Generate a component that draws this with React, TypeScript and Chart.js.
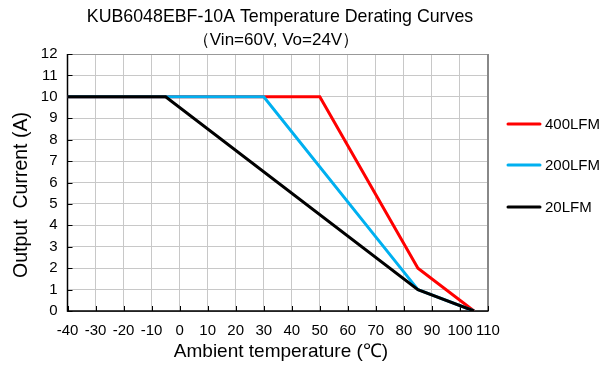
import React, { useEffect, useRef } from "react";
import { Chart, registerables } from "chart.js";

Chart.register(...registerables);

const TITLE = "KUB6048EBF-10A Temperature Derating Curves";
const SUBTITLE = "（Vin=60V, Vo=24V）";
const X_TITLE = "Ambient temperature (℃)";
const Y_TITLE = "Output  Current (A)";

const seriesNames = ["400LFM", "200LFM", "20LFM"];
const seriesColors = ["#ff0000", "#00b0f0", "#000000"];

const temp400 = [-40, 50, 85, 105];
const curr400 = [10, 10, 2, 0];
const temp200 = [-40, 30, 85, 105];
const curr200 = [10, 10, 1, 0];
const temp20 = [-40, -5, 85, 105];
const curr20 = [10, 10, 1, 0];

const xMin = -40, xMax = 110, xStep = 10;
const yMin = 0, yMax = 12, yStep = 1;

const FONT = "'Liberation Sans', Arial, sans-serif";

const pts = (xs: number[], ys: number[]) => xs.map((x, i) => ({ x, y: ys[i] }));

const decorPlugin = {
  id: "decor",
  beforeDatasetsDraw(chart: any) {
    const { ctx, chartArea, scales } = chart;
    const xs = scales.x, ys = scales.y;
    ctx.save();
    // top & right frame gray
    ctx.strokeStyle = "#999";
    ctx.lineWidth = 1;
    ctx.beginPath();
    ctx.moveTo(chartArea.left, Math.round(chartArea.top) + 0.5);
    ctx.lineTo(chartArea.right, Math.round(chartArea.top) + 0.5);
    ctx.stroke();
    ctx.strokeStyle = "#888";
    ctx.lineWidth = 2;
    ctx.beginPath();
    ctx.moveTo(chartArea.right, chartArea.top);
    ctx.lineTo(chartArea.right, chartArea.bottom);
    ctx.stroke();
    ctx.strokeStyle = "#000";
    ctx.lineWidth = 1;
    for (let v = xMin; v <= xMax; v += xStep) {
      const px = Math.round(xs.getPixelForValue(v)) + 0.5;
      ctx.beginPath();
      ctx.moveTo(px, chartArea.bottom);
      ctx.lineTo(px, chartArea.bottom - 5);
      ctx.stroke();
    }
    for (let v = yMin; v <= yMax; v += yStep) {
      const py = Math.round(ys.getPixelForValue(v)) + 0.5;
      ctx.beginPath();
      ctx.moveTo(chartArea.left, py);
      ctx.lineTo(chartArea.left + 5, py);
      ctx.stroke();
    }
    // frame: left & bottom black
    ctx.lineWidth = 1.5;
    ctx.beginPath();
    ctx.moveTo(chartArea.left, chartArea.top);
    ctx.lineTo(chartArea.left, chartArea.bottom);
    ctx.lineTo(chartArea.right, chartArea.bottom);
    ctx.stroke();
    ctx.restore();
  },
  afterDraw(chart: any) {
    const { ctx } = chart;
    ctx.save();
    ctx.fillStyle = "#000";
    ctx.textAlign = "center";
    ctx.textBaseline = "middle";
    ctx.font = `17.8px ${FONT}`;
    ctx.fillText(TITLE, 280, 17);
    ctx.font = `17px ${FONT}`;
    ctx.fillText(SUBTITLE, 276, 40);
    ctx.font = `19px ${FONT}`;
    ctx.fillText(X_TITLE, 281, 352);
    ctx.save();
    ctx.translate(22, 195);
    ctx.rotate(-Math.PI / 2);
    ctx.font = `19.5px ${FONT}`;
    ctx.fillText(Y_TITLE, 0, 0);
    ctx.restore();
    // legend
    const legendY = [124, 165, 207];
    ctx.textAlign = "left";
    ctx.font = `15px ${FONT}`;
    chart.data.datasets.forEach((ds: any, i: number) => {
      const y = legendY[i];
      ctx.strokeStyle = ds.borderColor;
      ctx.lineWidth = 3;
      ctx.lineCap = "round";
      ctx.beginPath();
      ctx.moveTo(508, y);
      ctx.lineTo(540, y);
      ctx.stroke();
      ctx.fillStyle = "#000";
      ctx.fillText(ds.label, 545, y + 1);
    });
    ctx.restore();
  },
};

export default function App() {
  const ref = useRef<HTMLCanvasElement>(null);
  useEffect(() => {
    if (!ref.current) return;
    const chart = new Chart(ref.current, {
      type: "line",
      data: {
        datasets: [
          { label: seriesNames[0], data: pts(temp400, curr400), borderColor: seriesColors[0], backgroundColor: seriesColors[0], borderWidth: 3, pointRadius: 0, order: 2 },
          { label: seriesNames[1], data: pts(temp200, curr200), borderColor: seriesColors[1], backgroundColor: seriesColors[1], borderWidth: 3, pointRadius: 0, order: 1 },
          { label: seriesNames[2], data: pts(temp20, curr20), borderColor: seriesColors[2], backgroundColor: seriesColors[2], borderWidth: 3, pointRadius: 0, order: 0 },
        ],
      },
      options: {
        animation: false,
        responsive: false,
        layout: { padding: { top: 54, right: 115, bottom: 0, left: 0 } },
        plugins: { legend: { display: false }, title: { display: false }, tooltip: { enabled: false } },
        scales: {
          x: {
            type: "linear",
            min: xMin,
            max: xMax,
            ticks: { stepSize: xStep, color: "#000", font: { family: FONT, size: 15 }, padding: 11, maxRotation: 0, autoSkip: false },
            grid: { color: "#c8c8c8", drawTicks: false, lineWidth: 1 },
            border: { display: true, color: "#888" },
            afterFit: (s: any) => { s.height = 54; },
          },
          y: {
            type: "linear",
            min: yMin,
            max: yMax,
            ticks: { stepSize: yStep, color: "#000", font: { family: FONT, size: 15 }, padding: 10 },
            grid: { color: "#c8c8c8", drawTicks: false, lineWidth: 1 },
            border: { display: true, color: "#888" },
            afterFit: (s: any) => { s.width = 67.5; },
          },
        },
      },
      plugins: [decorPlugin],
    });
    return () => chart.destroy();
  }, []);
  return (
    <div style={{ position: "fixed", left: 0, top: 0, width: 603, height: 365, background: "#fff" }}>
      <canvas ref={ref} width={603} height={365} style={{ width: 603, height: 365 }} />
    </div>
  );
}
